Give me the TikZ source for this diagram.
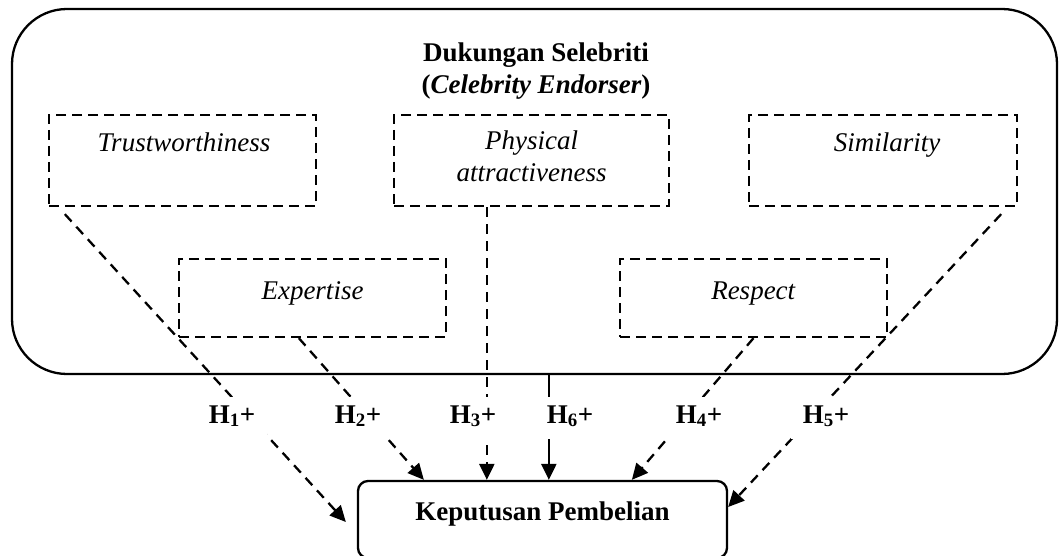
\documentclass[tikz,border=0pt]{standalone}
\usepackage{fontspec}
\setmainfont{Liberation Serif}
\usetikzlibrary{arrows.meta,calc}
\begin{document}
\begin{tikzpicture}[x=1pt,y=-1pt,
  txt/.style={font=\fontsize{27}{32}\selectfont, inner sep=0pt, align=center},
  dbox/.style={draw, dash pattern=on 10pt off 6pt, line width=2.3pt, inner sep=0pt},
  dline/.style={line width=2.3pt, dash pattern=on 10pt off 7pt, -{Triangle[length=16pt,width=15pt]}},
  sline/.style={line width=2.3pt, -{Triangle[length=16pt,width=15pt]}},
  lbl/.style={font=\fontsize{27}{32}\selectfont\bfseries, fill=white, inner xsep=12pt, inner ysep=0pt, text height=26pt, text depth=16pt, anchor=base}]
\useasboundingbox (0,0) rectangle (1059,556);
% outer group
\node[draw, line width=2.3pt, rounded corners=55pt, minimum width=1045pt, minimum height=365pt, inner sep=0pt] (ce) at (534.5,191.5) {};
\node[txt, anchor=base] (title) at (536,94) {\textbf{Dukungan Selebriti}\\\textbf{(\textit{Celebrity Endorser})}};
% dimension boxes
\node[dbox, minimum width=267pt, minimum height=91pt] (tw) at (182.5,160.5) {};
\node[dbox, minimum width=275pt, minimum height=91pt] (ph) at (531.5,160.5) {};
\node[dbox, minimum width=268pt, minimum height=91pt] (si) at (883,160.5) {};
\node[dbox, minimum width=267pt, minimum height=78pt] (ex) at (312.5,298) {};
\node[dbox, minimum width=267pt, minimum height=78pt] (re) at (753.5,298) {};
\node[txt, anchor=base] (twt) at (184,152) {\textit{Trustworthiness}};
\node[txt, anchor=base] (pht) at (531.5,182) {\textit{Physical}\\\textit{attractiveness}};
\node[txt, anchor=base] (sit) at (887,152) {\textit{Similarity}};
\node[txt, anchor=base] (ext) at (312.5,299) {\textit{Expertise}};
\node[txt, anchor=base] (ret) at (753.5,299) {\textit{Respect}};
% decision box
\node[draw, line width=2.3pt, rounded corners=10pt, minimum width=369pt, minimum height=77pt, inner sep=0pt] (kp) at (542.5,519.5) {};
\node[txt, anchor=base] (kpt) at (542.5,520) {\textbf{Keputusan Pembelian}};
% connectors
\draw[dline] ($(tw.south west)+(17,7)$) -- ($(kp.west)+(-11,2.5)$);
\draw[dline] ($(ex.south west)+(121,0)$) -- ($(kp.north west)+(67,0)$);
\draw[dline] ($(ph.south west)+(94,0)$) -- ($(kp.north west)+(130,0)$);
\draw[sline] ($(ce.south west)+(538,0)$) -- ($(kp.north west)+(192,0)$);
\draw[dline] (re.south) -- ($(kp.north west)+(275,0)$);
\draw[dline] ($(si.south east)+(-17,7)$) -- ($(kp.east)+(0,-12.5)$);
% labels
\node[lbl] (h1) at (232,423) {H\textsubscript{1}+};
\node[lbl] (h2) at (358,423) {H\textsubscript{2}+};
\node[lbl] (h3) at (473,423) {H\textsubscript{3}+};
\node[lbl] (h6) at (570,423) {H\textsubscript{6}+};
\node[lbl] (h4) at (699,423) {H\textsubscript{4}+};
\node[lbl] (h5) at (826,423) {H\textsubscript{5}+};
\end{tikzpicture}
\end{document}
